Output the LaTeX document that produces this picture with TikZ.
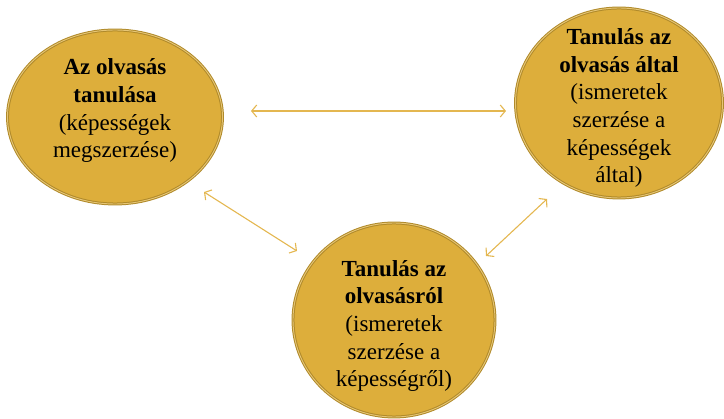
\documentclass[tikz,border=0pt]{standalone}
\usepackage{fontspec}
\setmainfont{Liberation Serif}
\usetikzlibrary{shapes.geometric,arrows.meta}
\definecolor{goldfill}{HTML}{DDAE3B}
\definecolor{goldedge}{HTML}{B08A2A}
\definecolor{arrowgold}{HTML}{E4B750}
\tikzset{
  bubble/.style={ellipse, fill=goldfill, draw=goldedge, double=goldfill!70!white, double distance=0.9pt, line width=1pt, inner sep=0pt},
  bubbletext/.style={align=center, inner sep=0pt, anchor=base, font=\fontsize{23}{27.7}\selectfont},
  link/.style={draw=arrowgold, line width=1.1pt, {Straight Barb[length=5pt,width=12pt]}-{Straight Barb[length=5pt,width=12pt]}}
}
\begin{document}
\begin{tikzpicture}[x=1pt,y=-1pt]
\useasboundingbox (0,0) rectangle (724,419);
\node[bubble, minimum width=215pt, minimum height=174pt] (left) at (115,117) {};
\node[bubble, minimum width=207pt, minimum height=190pt] (right) at (619,103) {};
\node[bubble, minimum width=202pt, minimum height=194pt] (bottom) at (394,320) {};
\node[bubbletext] (lefttext) at (115,158) {\textbf{Az olvasás}\\\textbf{tanulása}\\(képességek\\megszerzése)};
\node[bubbletext] (righttext) at (619,183) {\textbf{Tanulás az}\\\textbf{olvasás által}\\(ismeretek\\szerzése a\\képességek\\által)};
\node[bubbletext] (bottomtext) at (394,387) {\textbf{Tanulás az}\\\textbf{olvasásról}\\(ismeretek\\szerzése a\\képességről)};
\coordinate (h1) at (251,111);
\coordinate (h2) at (506,111);
\coordinate (d1) at (204,192);
\coordinate (d2) at (297,251);
\coordinate (e1) at (486,256);
\coordinate (e2) at (547,199);
\draw[link] (h1) -- (h2);
\draw[link] (d1) -- (d2);
\draw[link] (e1) -- (e2);
\end{tikzpicture}
\end{document}
